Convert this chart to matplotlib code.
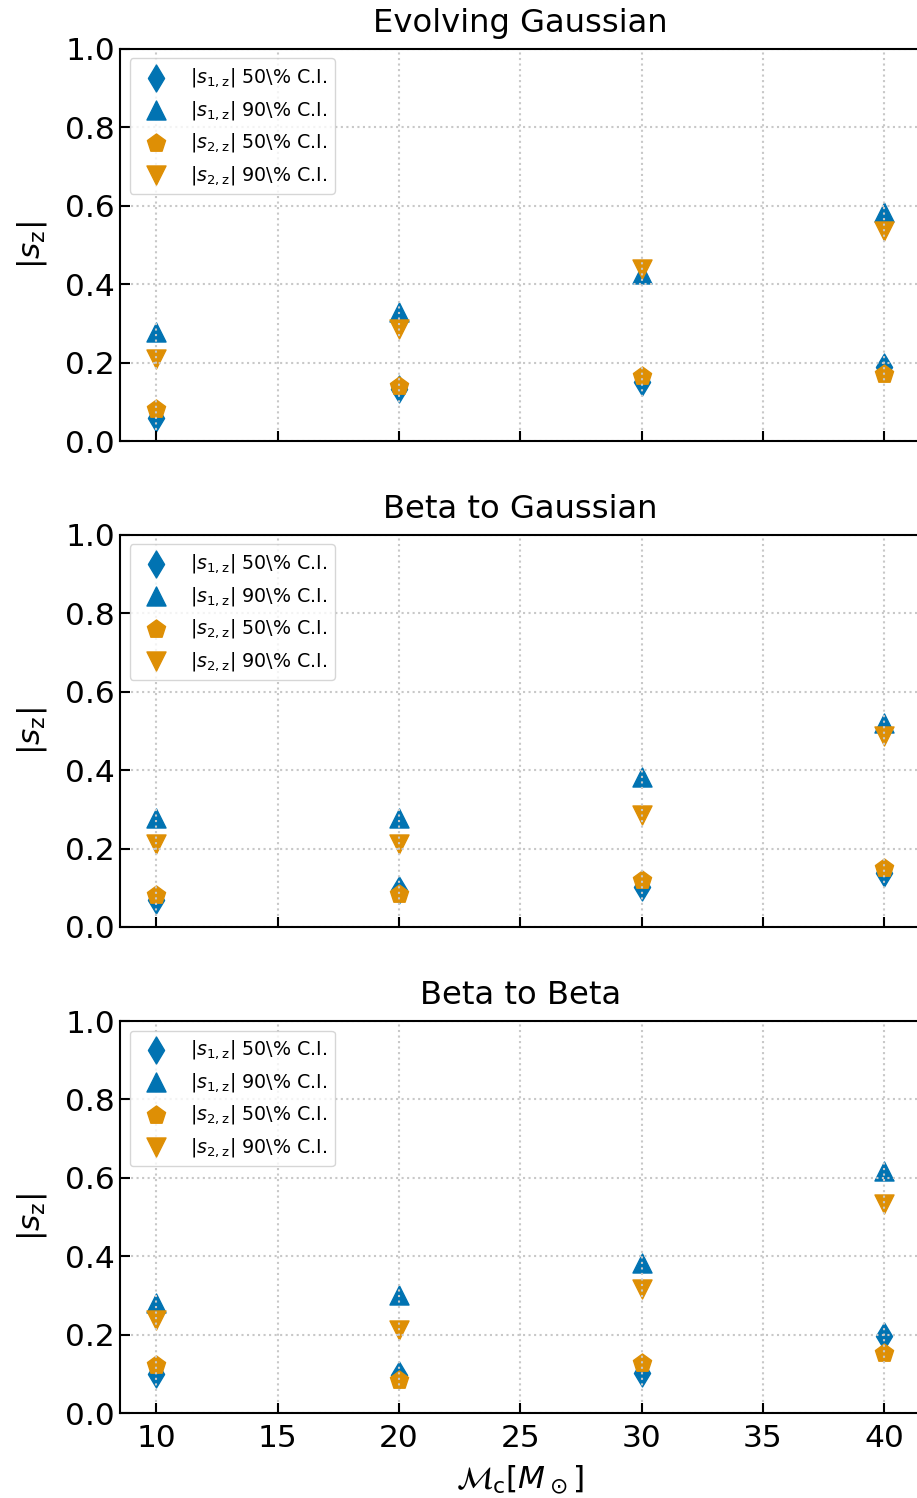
import numpy as np
import matplotlib.pyplot as plt

# chirp mass values and |s_z| credible-interval bounds for each population model
mc = [10, 20, 30, 40]
titles = ["Evolving Gaussian", "Beta to Gaussian", "Beta to Beta"]

s1_50 = [
    [0.058, 0.133, 0.151, 0.189],
    [0.070, 0.095, 0.102, 0.138],
    [0.100, 0.096, 0.103, 0.196],
]
s1_90 = [
    [0.278, 0.329, 0.426, 0.584],
    [0.279, 0.279, 0.383, 0.520],
    [0.282, 0.300, 0.384, 0.617],
]
s2_50 = [
    [0.082, 0.140, 0.166, 0.171],
    [0.081, 0.083, 0.119, 0.151],
    [0.122, 0.084, 0.127, 0.153],
]
s2_90 = [
    [0.209, 0.285, 0.439, 0.536],
    [0.212, 0.212, 0.286, 0.487],
    [0.237, 0.212, 0.316, 0.534],
]

blue = "#0173b2"
orange = "#de8f05"

plt.rcParams["axes.linewidth"] = 1.5

fig = plt.figure(figsize=(9.17, 14.98), dpi=100)
bottoms = [0.7056, 0.3812, 0.0567]
axes = []
for b in bottoms:
    axes.append(fig.add_axes([0.1309, b, 0.873, 0.2617]))

ms = 188  # marker area in points^2
for i, ax in enumerate(axes):
    ax.scatter(mc, s1_50[i], marker="d", s=ms, color=blue, label=r"$|s_{1,\rm z}|$ 50\% C.I.")
    ax.scatter(mc, s1_90[i], marker="^", s=ms, color=blue, label=r"$|s_{1,\rm z}|$ 90\% C.I.")
    ax.scatter(mc, s2_50[i], marker="p", s=ms, color=orange, label=r"$|s_{2,\rm z}|$ 50\% C.I.")
    ax.scatter(mc, s2_90[i], marker="v", s=ms, color=orange, label=r"$|s_{2,\rm z}|$ 90\% C.I.")

    ax.set_xlim(8.5, 41.5)
    ax.set_ylim(0, 1.0)
    ax.set_xticks(np.arange(10, 41, 5))
    ax.set_yticks(np.arange(0, 1.01, 0.2))
    ax.grid(True, linestyle=":", color="#c8c8c8", linewidth=1.5)
    ax.tick_params(direction="in", length=7, width=1.5, labelsize=22.5)
    ax.tick_params(axis="x", pad=8)
    ax.set_title(titles[i], fontsize=23.2, pad=12)
    ax.set_ylabel(r"$|s_{\rm z}|$", fontsize=22.5, labelpad=12)
    ax.legend(loc="upper left", fontsize=13.7, handletextpad=0.8)
    if i < 2:
        ax.tick_params(labelbottom=False)

axes[-1].set_xlabel(r"$\mathcal{M}_{\rm c} [M_\odot]$", fontsize=22.5, labelpad=7)

fig.savefig("out.png", dpi=100)
